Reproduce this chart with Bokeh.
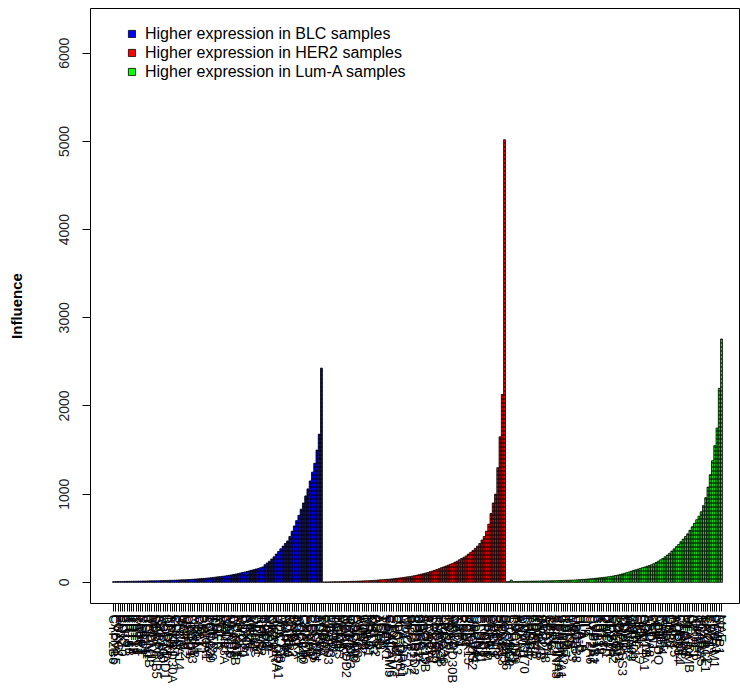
from bokeh.plotting import figure
from bokeh.models import FixedTicker, Range1d, ColumnDataSource, Legend, LegendItem
from bokeh.embed import file_html
from bokeh.resources import INLINE

# ---------------- data ----------------
BLC_VALUES = [8, 9, 9, 10, 10, 11, 11, 12, 12, 13, 13, 14, 14, 15, 15, 16,
              17, 17, 18, 18, 19, 20, 20, 21, 22, 23, 24, 25, 26, 27, 28, 29, 30, 31,
              33, 35, 37, 39, 41, 43, 45, 47, 50, 53, 56, 59, 62, 65, 68, 71, 75, 79,
              84, 89, 94, 99, 105, 111, 117, 123, 130, 137, 144, 151, 158, 165, 175,
              200, 220, 240, 265, 290, 320, 350, 380, 410, 440, 470,
              520, 580, 640, 700, 760, 830, 900, 980, 1060, 1150, 1250, 1350, 1500, 1680, 2430]

HER2_VALUES = [4, 5, 5, 6, 6, 7, 7, 8, 8, 9, 10, 10, 11, 12, 13, 14,
               15, 16, 17, 18, 19, 20, 22, 24, 26, 28, 30, 32, 34, 36, 39, 42, 45, 48,
               51, 54, 58, 62, 66, 70, 75, 80, 86, 92, 98, 105, 112, 120, 128, 136, 145, 155,
               165, 175, 185, 195, 205, 215, 228, 240, 255, 270, 285, 300, 320, 340,
               360, 385, 410, 440, 480, 520, 580, 660, 780, 900, 1000, 1300, 1650, 2130, 5020]

LUMA_VALUES = [8, 10, 26, 9, 10, 11, 11, 12, 12, 13, 13, 14, 14, 14, 15, 15,
               16, 16, 17, 17, 18, 18, 19, 20, 21, 22, 23, 24, 25, 26, 27, 28, 30, 32,
               34, 36, 38, 40, 42, 45, 48, 51, 54, 57, 60, 64, 68, 72, 77, 82, 88, 95,
               102, 110, 118, 126, 134, 142, 150, 158, 166, 174, 182, 190, 200, 212, 225, 240,
               255, 270, 290, 310, 330, 355, 380, 405, 430, 460, 490, 520, 550, 590,
               630, 670, 710, 750, 800, 870, 960, 1080, 1220, 1380, 1550, 1750, 2200, 2760]

BLC_GENES = ("CYP2B6 CALML5 FOXC1 EN1 SOX10 ELF5 KRT5 KRT6B KRT14 KRT17 KRT16 KRT81 FABP7 "
             "SFRP1 VGLL1 ROPN1 ROPN1B PROM1 MIA SERPINB5 GABRP ART3 LOC100 HORMAD1 BBOX1 "
             "TTYH1 ANKRD30A CHI3L1 CDH3 SLC6A14 PAX6 UGT8 MMP12 DSC2 LEMD1 CXCL13 CRYAB "
             "MSLN CT83 PSAT1 PI3 S100A1 FGFR4 LOC339 TRIM29 ID4 EGFR KIT MELK FAM83A SPDEF "
             "NAT1 MUC16 CENPF ACTR3B FOXA1 MYC CDC20 CCNE1 BIRC5 KIF2C ANLN MKI67 UBE2C "
             "PTTG1 RRM2 TYMS CEP55 NUF2 EXO1 ORC6 KIF20A HLA-DRA HLA-DQA1 LOC728 MAPT BLVRA "
             "NDC80 CCNB1 MYBL2 BUB1 TPX2 AURKA LOC642 GPR160 CXXC5 FOXM1 CDCA1 CENPU SLC7A5 "
             "PHGDH ASPM TOP2A").split()
HER2_GENES = ("ERBB2 GRB7 STARD3 PGAP3 MIEN1 PNMT TCAP PSMD3 MED1 CDK12 NEUROD2 IKZF3 ORMDL3 "
              "GSDMB LOC400 CASC3 RARA WIPF2 CDC6 THRA NR1D1 MSL1 KRT23 FGFR2 AGR2 AGR3 TFF1 "
              "TFF3 SPINK1 CEACAM5 CEACAM6 S100P CLCA2 LOC283 HLA-DRB1 HLA-DPA1 CD74 MUC1 PIP "
              "SCGB2A2 SCGB1D2 APOD DHRS2 ABCC11 ABCC12 ALOX15B FASN ACACA SREBF1 LOC550 ELOVL5 "
              "TMC5 SEMA3B LRRC26 CYB5A TBX3 MLPH ANKRD30B CA12 GATA3 XBP1 ESR1 PGR BCL2 KCNK15 "
              "UBE2T HMGCS2 LOC644 CLDN4 CLDN8 CLDN11 ERBB3 EPCAM ESRP1 GRHL2 OVOL1 SPINT2 "
              "PRSS8 ST14 HOXB13 LOC645").split()
LUMA_GENES = ("SLC39A6 SCUBE2 CYP4Z1 CYP4X1 TBC1D9 AR ANXA9 DNALI1 CCDC170 C6orf97 THSD4 FBP1 "
              "ERBB4 KDM4B MYB INPP4B STC2 SLC7A8 ABAT GFRA1 TPRG1 SYTL2 SERPINA3 SERPINA5 "
              "SERPINA1 CELSR2 RBM47 IL6ST PRLR CRISP3 MGP LOC338 HLA-C HLA-B HLA-A LTF LYZ "
              "CYP2A6 CYP2A7 CYP1B1 CPB1 KRT18 KRT19 KRT8 DACH1 BMP7 NPY1R ELOVL2 GREB1 PDZK1 "
              "LOC401 TMPRSS3 CDH1 MSX2 WWP1 ZNF703 CITED1 LRRC17 OGN DCN LUM COL14A1 ADH1B "
              "ABCA8 CFD PLIN1 LEP ADIPOQ CIDEA FABP4 RBP4 LPL CD36 GPD1 TUSC5 AQP7 LOC654 "
              "CHRDL1 SFRP4 PTGDS MFAP4 HLA-DMB C7 APOC1 IGFBP6 ITM2A SCARA5 TNXB SPARCL1 "
              "CXCL12 CD34 VWF PECAM1 LYVE1 STAB1 MAF").split()

GROUP_LABELS = ["Higher expression in BLC samples",
                "Higher expression in HER2 samples",
                "Higher expression in Lum-A samples"]
GROUP_COLORS = ["#0000FF", "#FF0000", "#00FF00"]
Y_TICKS = [0, 1000, 2000, 3000, 4000, 5000, 6000]

# ---------------- plot ----------------
groups = [(BLC_VALUES, BLC_GENES), (HER2_VALUES, HER2_GENES), (LUMA_VALUES, LUMA_GENES)]
N = sum(len(v) for v, _ in groups)

FONT = "Liberation Sans"
p = figure(width=740, height=692, output_backend="svg", toolbar_location=None,
           x_range=Range1d(-10.18, N - 1 + 7.96), y_range=Range1d(-240, 6508),
           min_border_left=90, min_border_right=1, min_border_top=8, min_border_bottom=89)
p.xgrid.visible = False
p.ygrid.visible = False
p.background_fill_color = "white"
p.border_fill_color = "white"
p.outline_line_color = "black"
p.outline_line_width = 1
p.outline_line_alpha = 1

labels = {}
items = []
start = 0
for (vals, genes), color, lab in zip(groups, GROUP_COLORS, GROUP_LABELS):
    xs = list(range(start, start + len(vals)))
    names = (genes + [""] * len(vals))[:len(vals)]
    for x, nm in zip(xs, names):
        labels[x] = nm
    src = ColumnDataSource(dict(x=xs, top=vals))
    base = p.vbar(x="x", top="top", bottom=0, width=0.83, source=src,
                  fill_color=color, line_color="black", line_width=0.8)
    p.vbar(x="x", top="top", bottom=0, width=0.83, source=src,
           fill_alpha=0, line_color=None,
           hatch_pattern="horizontal_line", hatch_color="black",
           hatch_scale=4, hatch_weight=1.1, hatch_alpha=0.9)
    items.append(LegendItem(label=lab, renderers=[base]))
    start += len(vals)

legend = Legend(items=items, location=(37, 522))
legend.glyph_width = 9
legend.glyph_height = 9
legend.label_standoff = 9
legend.label_height = 19
legend.spacing = 0
legend.padding = 0
legend.margin = 0
legend.border_line_color = None
legend.background_fill_alpha = 0
legend.label_text_font = FONT
legend.label_text_font_size = "16px"
legend.label_text_color = "black"
p.add_layout(legend)

# x axis
xa = p.xaxis[0]
xa.ticker = FixedTicker(ticks=list(range(N)))
xa.major_label_overrides = labels
xa.major_label_orientation = "vertical"
xa.major_label_text_font = FONT
xa.major_label_text_font_size = "13px"
xa.major_label_text_color = "black"
xa.major_label_standoff = 3
xa.major_tick_out = 8
xa.major_tick_in = 0
xa.major_tick_line_color = "black"
xa.minor_tick_line_color = None
xa.axis_line_color = None

# y axis
ya = p.yaxis[0]
ya.ticker = FixedTicker(ticks=Y_TICKS)
ya.major_label_orientation = "vertical"
ya.major_label_text_font = FONT
ya.major_label_text_font_size = "14px"
ya.major_label_text_color = "#222222"
ya.major_label_standoff = 13
ya.major_tick_out = 8
ya.major_tick_in = 0
ya.major_tick_line_color = "black"
ya.minor_tick_line_color = None
ya.axis_line_color = None
ya.axis_label = "Influence"
ya.axis_label_text_font = FONT
ya.axis_label_text_font_size = "15px"
ya.axis_label_text_font_style = "bold"
ya.axis_label_text_color = "black"
ya.axis_label_standoff = 32

open("out.html", "w").write(file_html(p, INLINE))
